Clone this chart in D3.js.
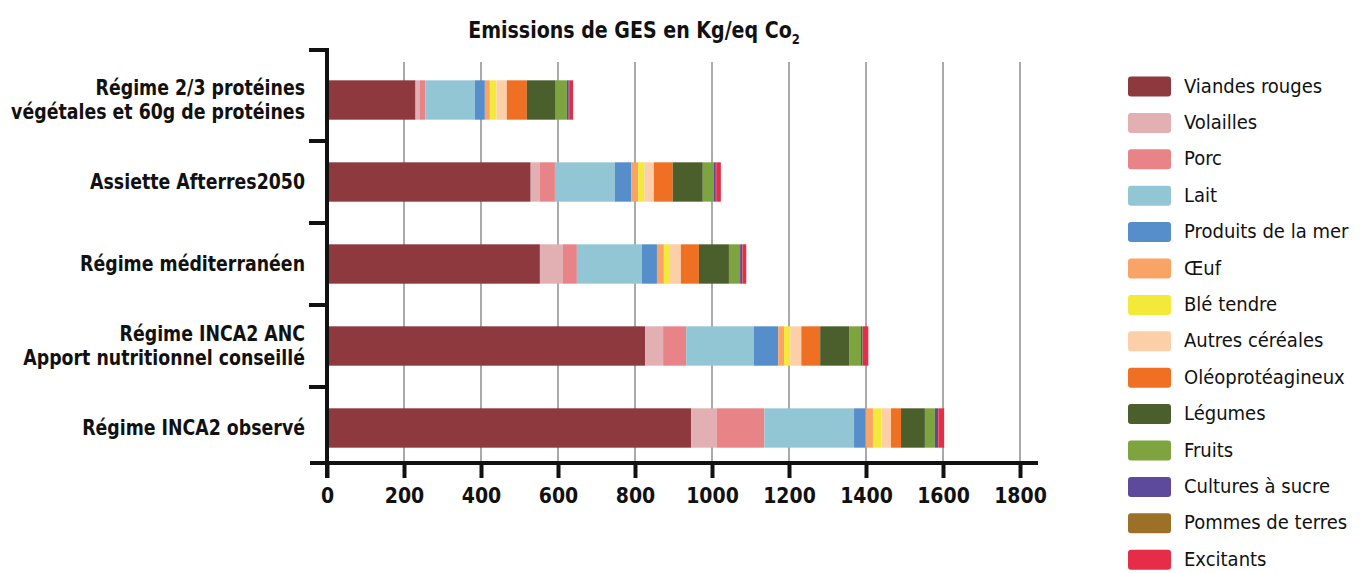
<!DOCTYPE html>
<html>
<head>
<meta charset="utf-8">
<script src="https://cdn.jsdelivr.net/npm/d3@7"></script>
<style>
  body { margin: 0; background: #fff; }
  svg text { font-family: "DejaVu Sans Condensed", "Liberation Sans Narrow", sans-serif; fill: #111; }
</style>
</head>
<body>
<div id="chart"></div>
<script>
// categories, top to bottom, split on two lines where the original does
const categories = [
    ["Régime 2/3 protéines", "végétales et 60g de protéines"],
    ["Assiette Afterres2050"],
    ["Régime méditerranéen"],
    ["Régime INCA2 ANC", "Apport nutritionnel conseillé"],
    ["Régime INCA2 observé"]
]

const groups = ["Viandes rouges", "Volailles", "Porc", "Lait", "Produits de la mer", "Œuf",
    "Blé tendre", "Autres céréales", "Oléoprotéagineux", "Légumes", "Fruits",
    "Cultures à sucre", "Pommes de terres", "Excitants"]

const viandesRouges   = [230, 529, 553, 826, 946]
const volailles       = [10, 24, 60, 47, 66]
const porc            = [16, 39, 36, 60, 124]
const lait            = [128, 156, 169, 176, 233]
const produitsMer     = [26, 42, 39, 63, 30]
const oeuf            = [13, 18, 18, 15, 19]
const bleTendre       = [17, 16, 16, 16, 22]
const autresCereales  = [27, 25, 28, 29, 25]
const oleoproteagineux = [52, 49, 47, 49, 26]
const legumes         = [75, 78, 78, 75, 62]
const fruits          = [29, 29, 29, 31, 26]
const culturesSucre   = [5, 5, 5, 4, 8]
const pommesDeTerre   = [1, 1, 1, 1, 1]
const excitants       = [10, 12, 10, 14, 15]

const xTicks = [0, 200, 400, 600, 800, 1000, 1200, 1400, 1600, 1800]

const series = [viandesRouges, volailles, porc, lait, produitsMer, oeuf, bleTendre,
    autresCereales, oleoproteagineux, legumes, fruits, culturesSucre, pommesDeTerre, excitants]

const colors = ["#8e393d", "#e2b0b3", "#e88387", "#93c6d5", "#568dcb", "#f9a466", "#f2e93b",
    "#fccfa8", "#f07023", "#4a5f2b", "#7da43e", "#5d4a9c", "#9c7027", "#e52d47"]

const W = 1363, H = 573

const data = categories.map((c, i) => {
    const row = { name: c.join(" ") }
    groups.forEach((g, j) => row[g] = series[j][i])
    return row
})

const stacked = d3.stack().keys(groups)(data)

const color = d3.scaleOrdinal().domain(groups).range(colors)

const xScale = d3.scaleLinear().domain([0, 1800]).range([327, 1020])
const yScale = d3.scaleBand()
    .domain(data.map(d => d.name))
    .range([59, 469])
    .paddingInner(0.52)
    .paddingOuter(0.26)

const axisY = 463, gridTop = 62, yAxisTop = 50

const svg = d3.select("#chart").append("svg")
    .attr("width", W).attr("height", H)

// title
const title = svg.append("text")
    .attr("transform", "translate(634,38) scale(0.92,1)")
    .attr("text-anchor", "middle")
    .style("font-size", "23px").style("font-weight", "bold")
title.append("tspan").text("Emissions de GES en Kg/eq Co")
title.append("tspan").text("2").attr("dy", 6).style("font-size", "14px")

// grid
svg.append("g").selectAll("line")
    .data(xTicks.filter(t => t > 0))
    .join("line")
    .attr("x1", d => xScale(d)).attr("x2", d => xScale(d))
    .attr("y1", gridTop).attr("y2", axisY)
    .attr("stroke", "#aaaaaa").attr("stroke-width", 2)

// bars
svg.append("g").selectAll("g")
    .data(stacked)
    .join("g")
    .attr("fill", d => color(d.key))
    .selectAll("rect")
    .data(d => d)
    .join("rect")
    .attr("x", d => xScale(d[0]))
    .attr("width", d => xScale(d[1]) - xScale(d[0]))
    .attr("y", d => yScale(d.data.name))
    .attr("height", yScale.bandwidth())

// x axis
const xAxis = svg.append("g")
    .attr("transform", `translate(0,${axisY})`)
    .call(d3.axisBottom(xScale).tickValues(xTicks).tickFormat(d3.format("d"))
        .tickSize(15).tickPadding(10))
xAxis.select(".domain").remove()
xAxis.selectAll(".tick line").attr("stroke", "#111").attr("stroke-width", 4)
xAxis.selectAll(".tick text")
    .style("font-size", "21px").style("font-weight", "bold")
    .style("font-family", "\"DejaVu Sans Condensed\", sans-serif")
    .attr("fill", "#111")
svg.append("line")
    .attr("x1", 310).attr("x2", 1038)
    .attr("y1", axisY).attr("y2", axisY)
    .attr("stroke", "#111").attr("stroke-width", 4)

// y axis with ticks between categories
const step = yScale.step(), gap = step - yScale.bandwidth()
const yTicks = [yAxisTop, ...data.slice(1).map(d => yScale(d.name) - gap / 2)]
svg.append("line")
    .attr("x1", 327).attr("x2", 327)
    .attr("y1", yAxisTop - 2).attr("y2", 478)
    .attr("stroke", "#111").attr("stroke-width", 4)
svg.append("g").selectAll("line")
    .data(yTicks)
    .join("line")
    .attr("x1", 309).attr("x2", 327)
    .attr("y1", d => d).attr("y2", d => d)
    .attr("stroke", "#111").attr("stroke-width", 4)

// category labels
svg.append("g").selectAll("text")
    .data(categories)
    .join("text")
    .attr("text-anchor", "end")
    .style("font-size", "21px").style("font-weight", "bold")
    .attr("transform", (c, i) => {
        const cy = yScale(data[i].name) + yScale.bandwidth() / 2
        return `translate(305,${cy - (c.length - 1) * 12 + 7}) scale(0.92,1)`
    })
    .selectAll("tspan")
    .data(c => c)
    .join("tspan")
    .attr("x", 0)
    .attr("dy", (d, i) => i === 0 ? 0 : 24)
    .text(d => d)

// legend
const legend = svg.append("g").selectAll("g")
    .data(groups)
    .join("g")
    .attr("transform", (d, i) => `translate(1128,${86.5 + i * 36.4})`)
legend.append("rect")
    .attr("x", 0).attr("y", -10)
    .attr("width", 43).attr("height", 20)
    .attr("rx", 3)
    .attr("fill", d => color(d))
legend.append("text")
    .attr("x", 56).attr("y", 6)
    .style("font-size", "20px")
    .text(d => d)
</script>
</body>
</html>
